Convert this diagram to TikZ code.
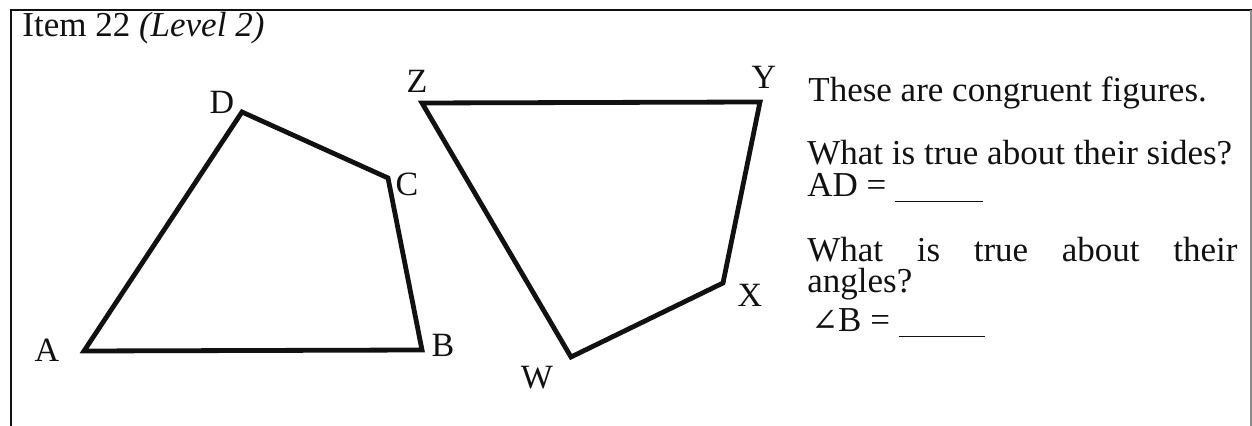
\documentclass[tikz,border=0pt]{standalone}
\usepackage{fontspec}
\setmainfont{Liberation Serif}
\newfontfamily\symbfont{DejaVu Serif}
\usepackage{tikz}
\usetikzlibrary{positioning,calc}
\definecolor{InkBlack}{HTML}{111111}
\definecolor{FaintRule}{HTML}{8A8A8A}

\tikzset{
  figline/.style={draw=InkBlack, line width=2.4pt, line join=miter},
  vlabel/.style={inner sep=0pt, font=\fontsize{17}{19}\selectfont, text=InkBlack},
  qline/.style={inner sep=0pt, anchor=base west, text height=12pt, text depth=2.5pt,
                font=\fontsize{17.5}{19}\selectfont, text=InkBlack}
}

\begin{document}
\begin{tikzpicture}[x=0.5pt, y=-0.5pt]
  \useasboundingbox (0,0) rectangle (1252,426);
  % frame, open at the bottom
  \draw[InkBlack, line width=1.3pt] (11,426) -- (11,10) -- (1252,10);
  \draw[FaintRule, line width=0.6pt] (1251,10) -- (1251,426);
  \node[qline] (itemhead) at (22,37) {Item 22 \textit{(Level 2)}};

  % first figure
  \coordinate (A) at (84,351);
  \coordinate (B) at (422,350);
  \coordinate (C) at (388,178);
  \coordinate (D) at (242,112);
  \draw[figline] (A) -- (B) -- (C) -- (D) -- cycle;
  \node[vlabel] (lblA) at (47,350) {A};
  \node[vlabel] (lblB) at (443,345) {B};
  \node[vlabel] (lblC) at (407,184) {C};
  \node[vlabel] (lblD) at (222,102) {D};

  % second figure
  \coordinate (Z) at (422,103);
  \coordinate (Y) at (760,102);
  \coordinate (X) at (723,283);
  \coordinate (W) at (571,357);
  \draw[figline] (Z) -- (Y) -- (X) -- (W) -- cycle;
  \node[vlabel] (lblZ) at (417,81) {Z};
  \node[vlabel] (lblY) at (764,77) {Y};
  \node[vlabel] (lblX) at (750,295) {X};
  \node[vlabel] (lblW) at (537,378) {W};

  % questions
  \node[qline] (congr) at (808,102) {These are congruent figures.};
  \node[qline] (sidesq) at (807,165) {What is true about their sides?};
  \node[qline] (sidesa) at (807,197) {AD = \rule[-2.5pt]{44pt}{0.7pt}};
  \node[qline] (anglq) at (807,262) {\makebox[215pt][s]{What is true about their}};
  \node[qline] (anglq2) at (807,293) {angles?};
  \node[qline] (angla) at (811,332)
    {{\symbfont\fontsize{16}{19}\selectfont ∠}B = \rule[-2.5pt]{43pt}{0.7pt}};
\end{tikzpicture}
\end{document}
